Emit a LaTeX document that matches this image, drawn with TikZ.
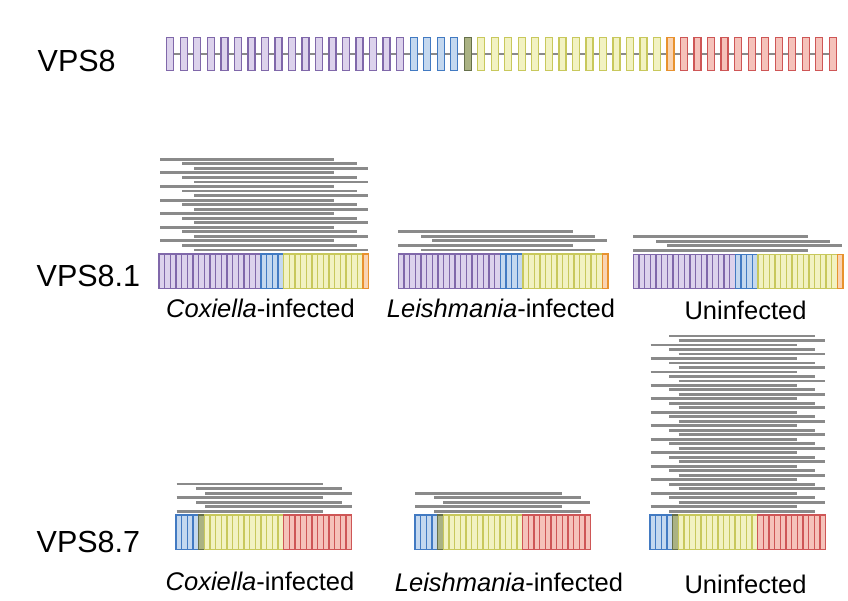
\documentclass[tikz,border=0pt]{standalone}
\usepackage{fontspec}
\setmainfont{Liberation Sans}
\definecolor{pF}{HTML}{DCD2EC}\definecolor{pD}{HTML}{8068AA}
\definecolor{bF}{HTML}{C4D8EF}\definecolor{bD}{HTML}{427AC2}
\definecolor{gF}{HTML}{AAB283}\definecolor{gD}{HTML}{66704A}
\definecolor{yF}{HTML}{F2F2C2}\definecolor{yD}{HTML}{C8C85C}
\definecolor{oF}{HTML}{F9D3B2}\definecolor{oD}{HTML}{E8922E}
\definecolor{rF}{HTML}{F5C2BA}\definecolor{rD}{HTML}{CE5656}
\definecolor{readc}{HTML}{8A8A8A}
\tikzset{
  P/.style={fill=pF,draw=pD},
  B/.style={fill=bF,draw=bD},
  G/.style={fill=gF,draw=gD},
  Y/.style={fill=yF,draw=yD},
  O/.style={fill=oF,draw=oD},
  R/.style={fill=rF,draw=rD},
  read/.style={draw=readc,line width=2.9pt},
  vlab/.style={anchor=base west,inner sep=0pt,font=\fontsize{30.5}{32}\selectfont},
  clab/.style={anchor=base,inner sep=0pt,font=\fontsize{25.5}{27}\selectfont},
}
\newcommand\cw{5.665}
\newcommand\cellh{34.5}
% x0, ytop, first index, last index, style
\newcommand\seg[5]{\foreach \i in {#3,...,#4}{\draw[#5,line width=1.2pt] ({#1+\i*\cw},#2) rectangle ++(\cw,\cellh);}}
% nrows, type offset, ytop, dy, starts, ends
\newcommand\readstack[6]{\foreach \k in {1,...,#1}{%
  \pgfmathtruncatemacro\rtype{mod(\k-1+#2,3)}%
  \pgfmathsetmacro\xa{{#5}[\rtype]}%
  \pgfmathsetmacro\xb{{#6}[\rtype]}%
  \pgfmathsetmacro\yy{#3+(\k-1)*#4}%
  \draw[read] (\xa,\yy) -- (\xb,\yy);}}
\newcommand\barone[2]{\seg{#1}{#2}{0}{17}{P}\seg{#1}{#2}{18}{21}{B}\seg{#1}{#2}{22}{35}{Y}\seg{#1}{#2}{36}{36}{O}}
\newcommand\barseven[2]{\seg{#1}{#2}{0}{3}{B}\seg{#1}{#2}{4}{4}{G}\seg{#1}{#2}{5}{18}{Y}\seg{#1}{#2}{19}{30}{R}}
\begin{document}
\begin{tikzpicture}[x=1pt,y=-1pt]
\useasboundingbox (0,0) rectangle (848,600);
% ---------- VPS8 domain structure ----------
\node[vlab] (l8) at (37.5,71) {VPS8};
\coordinate (ls) at (166.5,54);
\coordinate (le) at (836,54);
\draw[readc,line width=2.2pt] (ls) -- (le);
\foreach \i in {0,...,49}{
  \pgfmathsetmacro\sty{\i<18 ? 1 : (\i<22 ? 2 : (\i<23 ? 3 : (\i<37 ? 4 : (\i<38 ? 5 : 6))))}
  \ifcase\sty\or\def\st{P}\or\def\st{B}\or\def\st{G}\or\def\st{Y}\or\def\st{O}\or\def\st{R}\fi
  \draw[\st,line width=1.3pt] ({166.8+\i*13.52},37.3) rectangle ++(7,33.2);
}
% ---------- VPS8.1 ----------
\node[vlab] (l81) at (36.5,286) {VPS8.1};
\readstack{21}{0}{159.3}{4.535}{160,182.3,194}{334,356.7,368.3}
\barone{159}{254}
\readstack{5}{0}{231.7}{4.58}{398.3,421,432.3}{572.7,595,606.7}
\barone{398.3}{254}
\readstack{4}{0}{236.7}{4.53}{633.3,656,667.3}{807.7,830,841.7}
\barone{633.3}{254.3}
\node[clab] (c1) at (260.5,317) {\textit{Coxiella}-infected};
\node[clab] (s1) at (501,317) {\textit{Leishmania}-infected};
\node[clab] (u1) at (745.5,319.7) {Uninfected};
% ---------- VPS8.7 ----------
\node[vlab] (l87) at (36.5,552) {VPS8.7};
\readstack{7}{0}{484}{4.55}{176.7,196,205}{322.7,342.3,351.7}
\barseven{176}{515}
\readstack{5}{0}{493.3}{4.5}{415,434.3,443.3}{561.7,581,590}
\barseven{415}{515}
\readstack{40}{1}{336}{4.495}{650.7,669.3,678.7}{796.7,815,825}
\barseven{650}{515}
\node[clab] (c7) at (260,590.7) {\textit{Coxiella}-infected};
\node[clab] (s7) at (509,591) {\textit{Leishmania}-infected};
\node[clab] (u7) at (745.5,593.7) {Uninfected};
\end{tikzpicture}
\end{document}
